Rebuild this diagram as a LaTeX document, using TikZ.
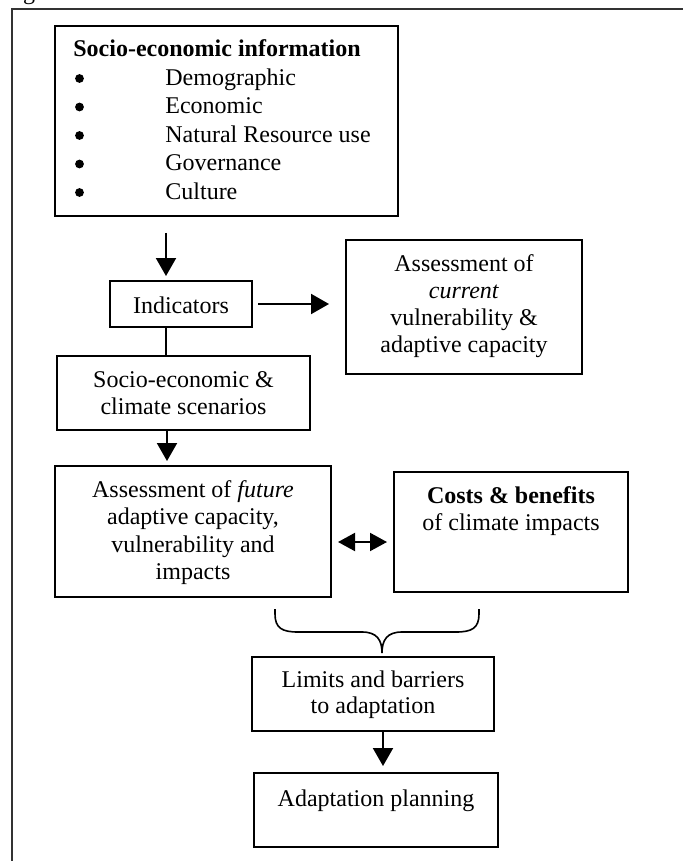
\documentclass[tikz,border=0pt]{standalone}
\usepackage{fontspec}
\setmainfont{Liberation Serif}
\usetikzlibrary{arrows.meta}
\begin{document}
\begin{tikzpicture}[x=0.5pt,y=-0.5pt,
  box/.style={draw,line width=1pt,inner sep=0pt},
  txt/.style={font=\fontsize{12}{14.3}\selectfont,inner sep=0pt,anchor=base},
  txtl/.style={txt,anchor=base west},
  bulletdot/.style={circle,fill,inner sep=0pt,minimum size=4.4pt},
  arr/.style={line width=1pt,-{Triangle[length=9pt,width=10pt]}},
  darr/.style={line width=1pt,{Triangle[length=8.5pt,width=9pt]}-{Triangle[length=8.5pt,width=9pt]}},
  conn/.style={line width=1pt},
  frame/.style={line width=0.9pt,black!80}]
\useasboundingbox (0,0) rectangle (683,861);
% outer frame (partly shown)
\draw[frame] (683,9) -- (12,9) -- (12,861);
\node[txt] (cap) at (29,0) {g};
% boxes
\node[box,minimum width=171.5pt,minimum height=95pt] (b1) at (226.5,121) {};
\node[box,minimum width=71pt,minimum height=23pt] (ind) at (181,304) {};
\node[box,minimum width=118pt,minimum height=67pt] (cur) at (464,307) {};
\node[box,minimum width=126.5pt,minimum height=37pt] (b3) at (183.5,393) {};
\node[box,minimum width=138pt,minimum height=65.5pt] (b4) at (193,531.5) {};
\node[box,minimum width=117pt,minimum height=60pt] (b5) at (511,532) {};
\node[box,minimum width=121pt,minimum height=37pt] (b6) at (373,694) {};
\node[box,minimum width=122pt,minimum height=37pt] (b7) at (376,810) {};
% box 1 text
\node[txtl] (t1) at (73,57) {\textbf{Socio-economic information}};
\foreach \y/\w [count=\i] in {85.5/Demographic,114/Economic,142.5/Natural Resource use,171/Governance,199.5/Culture}{
  \node[bulletdot] (bul\i) at (79.5,\y-7) {};
  \node[txtl] (it\i) at (165,\y) {\w};
}
% other texts
\node[txt] (tind) at (181,313) {Indicators};
\node[txt] (tc1) at (464,271) {Assessment of};
\node[txt] (tc2) at (464,298) {\textit{current}};
\node[txt] (tc3) at (464,325) {vulnerability \&};
\node[txt] (tc4) at (464,352) {adaptive capacity};
\node[txt] (ts1) at (183.5,387.5) {Socio-economic \&};
\node[txt] (ts2) at (183.5,414.5) {climate scenarios};
\node[txt] (tf1) at (193,497) {Assessment of \textit{future}};
\node[txt] (tf2) at (193,524.5) {adaptive capacity,};
\node[txt] (tf3) at (193,552) {vulnerability and};
\node[txt] (tf4) at (193,579.5) {impacts};
\node[txt] (tk1) at (511,503) {\textbf{Costs \& benefits}};
\node[txt] (tk2) at (511,530) {of climate impacts};
\node[txt] (tl1) at (373,687) {Limits and barriers};
\node[txt] (tl2) at (373,713) {to adaptation};
\node[txt] (tp) at (376,806) {Adaptation planning};
% connectors
\coordinate (ax) at (166,0);
\coordinate (ay) at (0,542);
\draw[arr,shorten <=8pt,shorten >=2pt] (b1.south -| ax) -- (ind.north -| ax);
\draw[arr,shorten <=2.5pt,shorten >=8pt] (ind.east) -- (cur.west |- ind.east);
\draw[conn] (ind.south -| ax) -- (b3.north -| ax);
\coordinate (ax2) at (167,0);
\draw[arr,shorten >=2pt] (b3.south -| ax2) -- (b4.north -| ax2);
\draw[darr,shorten <=3pt,shorten >=3pt] (b4.east |- ay) -- (b5.west |- ay);
\coordinate (ax3) at (383,0);
\draw[arr,shorten >=3pt] (b6.south -| ax3) -- (b7.north -| ax3);
% brace
\draw[line width=0.8pt] (275,609) -- (275,614) .. controls (275,628) and (282,632) .. (298,632)
  -- (362,632) .. controls (377,632) and (382,640) .. (382,653)
  .. controls (382,640) and (387,632) .. (402,632) -- (456,632)
  .. controls (472,632) and (479,628) .. (479,614) -- (479,609);
\end{tikzpicture}
\end{document}
